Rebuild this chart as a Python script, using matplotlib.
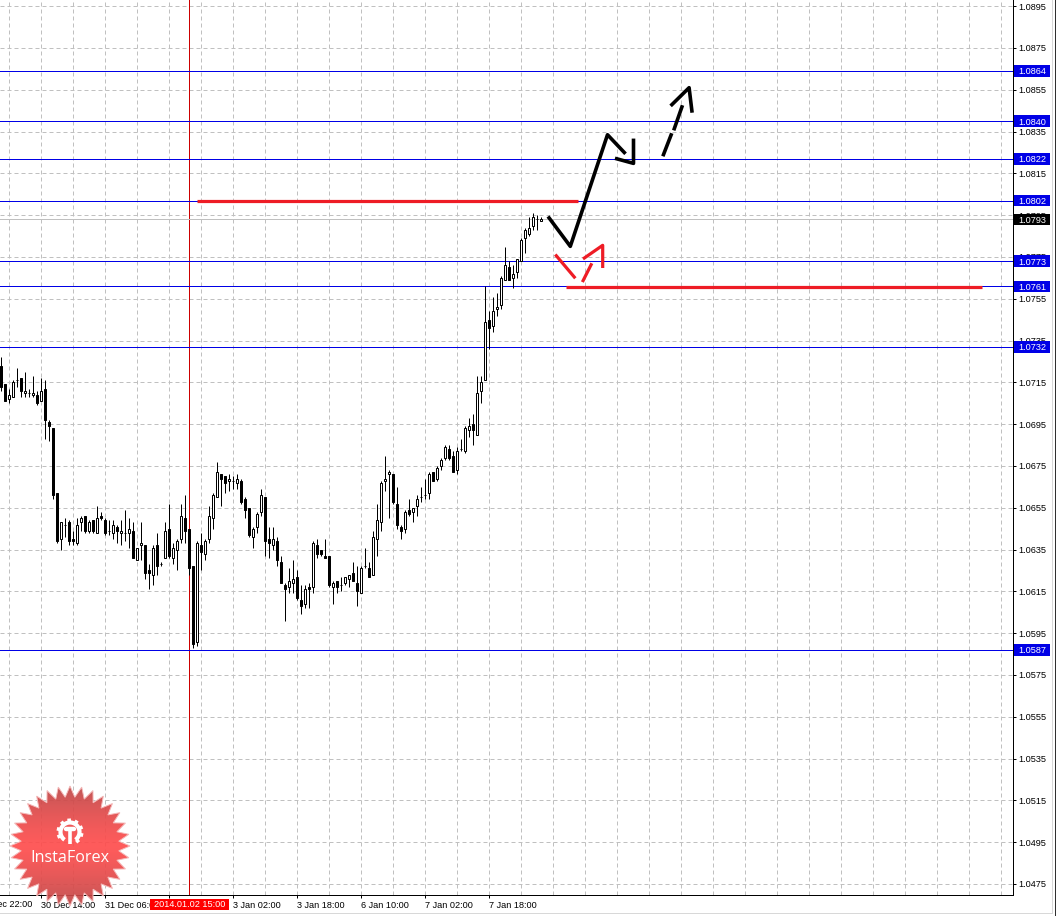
import matplotlib
matplotlib.use("Agg")
import matplotlib.pyplot as plt
import numpy as np
from matplotlib.lines import Line2D
from matplotlib.patches import Polygon, Rectangle

plt.rcParams["font.family"] = ["Liberation Sans", "DejaVu Sans"]

opens = [
    1.0723, 1.0714, 1.0707, 1.0708, 1.0716, 1.0717, 1.0710, 1.0710, 1.0709, 1.0709, 1.0706, 1.0712,
    1.0696, 1.0693, 1.0662, 1.0640, 1.0647, 1.0648, 1.0640, 1.0638, 1.0648, 1.0651, 1.0644, 1.0649,
    1.0643, 1.0651, 1.0649, 1.0644, 1.0643, 1.0646, 1.0643, 1.0643, 1.0643, 1.0644, 1.0630, 1.0637,
    1.0637, 1.0625, 1.0623, 1.0637, 1.0628, 1.0631, 1.0645, 1.0631, 1.0635, 1.0640, 1.0650, 1.0645,
    1.0627, 1.0591, 1.0637, 1.0633, 1.0640, 1.0650, 1.0660, 1.0671, 1.0670, 1.0668, 1.0668, 1.0667,
    1.0668, 1.0659, 1.0655, 1.0641, 1.0646, 1.0653, 1.0660, 1.0640, 1.0637, 1.0639, 1.0629, 1.0618,
    1.0617, 1.0619, 1.0622, 1.0611, 1.0609, 1.0617, 1.0617, 1.0637, 1.0635, 1.0632, 1.0632, 1.0617,
    1.0620, 1.0618, 1.0619, 1.0621, 1.0624, 1.0619, 1.0614, 1.0627, 1.0626, 1.0623, 1.0640, 1.0648,
    1.0668, 1.0671, 1.0671, 1.0657, 1.0646, 1.0645, 1.0654, 1.0653, 1.0656, 1.0660, 1.0661, 1.0662,
    1.0672, 1.0669, 1.0675, 1.0679, 1.0683, 1.0680, 1.0673, 1.0683, 1.0682, 1.0692, 1.0695, 1.0690,
    1.0711, 1.0716, 1.0745, 1.0742, 1.0750, 1.0752, 1.0764, 1.0770, 1.0765, 1.0768, 1.0773, 1.0784,
    1.0786, 1.0790, 1.0793, 1.0792,
]
highs = [
    1.0727, 1.0714, 1.0712, 1.0716, 1.0722, 1.0717, 1.0720, 1.0712, 1.0718, 1.0711, 1.0717, 1.0716,
    1.0697, 1.0693, 1.0662, 1.0648, 1.0650, 1.0649, 1.0644, 1.0650, 1.0651, 1.0651, 1.0649, 1.0649,
    1.0656, 1.0653, 1.0650, 1.0649, 1.0649, 1.0647, 1.0649, 1.0654, 1.0650, 1.0648, 1.0636, 1.0648,
    1.0637, 1.0628, 1.0637, 1.0643, 1.0629, 1.0648, 1.0657, 1.0638, 1.0640, 1.0657, 1.0661, 1.0645,
    1.0627, 1.0639, 1.0643, 1.0640, 1.0656, 1.0662, 1.0677, 1.0671, 1.0670, 1.0671, 1.0670, 1.0671,
    1.0669, 1.0660, 1.0655, 1.0646, 1.0653, 1.0664, 1.0660, 1.0646, 1.0646, 1.0641, 1.0632, 1.0619,
    1.0626, 1.0630, 1.0625, 1.0618, 1.0618, 1.0619, 1.0639, 1.0640, 1.0635, 1.0640, 1.0632, 1.0620,
    1.0620, 1.0622, 1.0622, 1.0623, 1.0629, 1.0627, 1.0627, 1.0636, 1.0629, 1.0644, 1.0657, 1.0668,
    1.0680, 1.0673, 1.0671, 1.0665, 1.0647, 1.0654, 1.0659, 1.0655, 1.0661, 1.0665, 1.0669, 1.0672,
    1.0672, 1.0675, 1.0679, 1.0685, 1.0685, 1.0682, 1.0684, 1.0688, 1.0694, 1.0698, 1.0700, 1.0718,
    1.0718, 1.0761, 1.0749, 1.0756, 1.0758, 1.0766, 1.0780, 1.0773, 1.0771, 1.0774, 1.0784, 1.0789,
    1.0794, 1.0796, 1.0795, 1.0794,
]
lows = [
    1.0711, 1.0706, 1.0705, 1.0708, 1.0713, 1.0708, 1.0708, 1.0708, 1.0708, 1.0704, 1.0706, 1.0688,
    1.0687, 1.0659, 1.0638, 1.0635, 1.0641, 1.0637, 1.0637, 1.0637, 1.0644, 1.0643, 1.0643, 1.0643,
    1.0643, 1.0649, 1.0642, 1.0642, 1.0640, 1.0638, 1.0637, 1.0639, 1.0636, 1.0631, 1.0630, 1.0630,
    1.0621, 1.0616, 1.0618, 1.0623, 1.0627, 1.0631, 1.0631, 1.0628, 1.0625, 1.0638, 1.0638, 1.0623,
    1.0588, 1.0589, 1.0625, 1.0630, 1.0638, 1.0645, 1.0660, 1.0656, 1.0662, 1.0663, 1.0664, 1.0664,
    1.0657, 1.0650, 1.0641, 1.0636, 1.0643, 1.0651, 1.0632, 1.0631, 1.0635, 1.0627, 1.0619, 1.0601,
    1.0614, 1.0614, 1.0611, 1.0604, 1.0607, 1.0607, 1.0614, 1.0631, 1.0632, 1.0631, 1.0617, 1.0609,
    1.0614, 1.0615, 1.0618, 1.0617, 1.0620, 1.0608, 1.0614, 1.0626, 1.0622, 1.0623, 1.0632, 1.0644,
    1.0663, 1.0650, 1.0657, 1.0645, 1.0640, 1.0643, 1.0651, 1.0648, 1.0651, 1.0658, 1.0659, 1.0659,
    1.0668, 1.0668, 1.0673, 1.0678, 1.0678, 1.0672, 1.0671, 1.0682, 1.0681, 1.0689, 1.0685, 1.0690,
    1.0705, 1.0716, 1.0731, 1.0739, 1.0747, 1.0750, 1.0764, 1.0764, 1.0760, 1.0765, 1.0773, 1.0777,
    1.0785, 1.0788, 1.0788, 1.0792,
]
closes = [
    1.0713, 1.0706, 1.0709, 1.0715, 1.0716, 1.0711, 1.0711, 1.0710, 1.0710, 1.0705, 1.0711, 1.0697,
    1.0694, 1.0661, 1.0639, 1.0648, 1.0647, 1.0639, 1.0639, 1.0647, 1.0650, 1.0644, 1.0648, 1.0644,
    1.0650, 1.0650, 1.0643, 1.0644, 1.0647, 1.0644, 1.0644, 1.0643, 1.0645, 1.0631, 1.0636, 1.0638,
    1.0624, 1.0624, 1.0636, 1.0627, 1.0628, 1.0644, 1.0632, 1.0636, 1.0639, 1.0651, 1.0644, 1.0626,
    1.0590, 1.0638, 1.0634, 1.0639, 1.0651, 1.0661, 1.0672, 1.0669, 1.0667, 1.0669, 1.0668, 1.0669,
    1.0658, 1.0654, 1.0642, 1.0645, 1.0652, 1.0661, 1.0639, 1.0638, 1.0640, 1.0630, 1.0619, 1.0616,
    1.0620, 1.0621, 1.0612, 1.0608, 1.0616, 1.0616, 1.0638, 1.0633, 1.0633, 1.0631, 1.0618, 1.0619,
    1.0617, 1.0618, 1.0622, 1.0623, 1.0620, 1.0615, 1.0626, 1.0627, 1.0622, 1.0641, 1.0649, 1.0667,
    1.0669, 1.0672, 1.0658, 1.0647, 1.0644, 1.0653, 1.0652, 1.0655, 1.0659, 1.0660, 1.0661, 1.0671,
    1.0668, 1.0674, 1.0678, 1.0684, 1.0679, 1.0672, 1.0682, 1.0683, 1.0693, 1.0694, 1.0692, 1.0710,
    1.0715, 1.0744, 1.0741, 1.0749, 1.0751, 1.0765, 1.0771, 1.0764, 1.0767, 1.0774, 1.0783, 1.0788,
    1.0789, 1.0794, 1.0793, 1.0793,
]

price_ticks = [1.0895 - 0.002 * k for k in range(22)]
level_prices = [1.0864, 1.0840, 1.0822, 1.0802, 1.0773, 1.0761, 1.0732, 1.0587]
last_price = 1.0793

time_tick_idx = [10, 26, 42, 58, 74, 90, 106, 122]
time_tick_labels = [
    "30 Dec 14:00", "31 Dec 06:00", "2 Jan 10:00", "3 Jan 02:00",
    "3 Jan 18:00", "6 Jan 10:00", "7 Jan 02:00", "7 Jan 18:00",
]
# label whose tick lies left of the window, only its tail shows
cut_tick_idx = -6
cut_tick_label = "29 Dec 22:00"
cursor_idx = 47
cursor_label = "2014.01.02 15:00"

# hand drawn forecast marks, (candle index, price)
red_levels = [([48.9, 144.2], [1.08017, 1.08017]), ([141.2, 245.2], [1.07606, 1.07606])]
black_paths = [
    ([136.9, 142.2, 151.5, 155.7], [1.07937, 1.07801, 1.08335, 1.08250]),
    ([153.8, 158.0, 158.0], [1.08220, 1.08198, 1.08308]),
    ([165.5, 167.4], [1.08240, 1.08334]),
    ([168.2, 170.1], [1.08364, 1.08468]),
    ([167.6, 171.9, 172.6], [1.08479, 1.08560, 1.08449]),
]
red_paths = [
    ([138.7, 143.2], [1.07756, 1.07654]),
    ([145.4, 147.4], [1.07637, 1.07713]),
    ([145.7, 150.3, 150.3], [1.07745, 1.07806, 1.07705]),
]

W, H = 1063, 916
PLOT_R, PLOT_B = 1013, 895
PX = 0.72  # one pixel in points at dpi 100
TICK_FONT = 6.6


def main() -> None:
    fig = plt.figure(figsize=(W / 100, H / 100), dpi=100, facecolor="white")
    ax = fig.add_axes([0, (H - PLOT_B) / H, PLOT_R / W, PLOT_B / H])

    for side in ["left", "top"]:
        ax.spines[side].set_visible(False)
    for side in ["right", "bottom"]:
        ax.spines[side].set_linewidth(PX)

    dash = (0, (4, 3))
    for p in price_ticks:
        ax.axhline(p, color="#c0c0c0", lw=PX, ls=dash, zorder=1)
    for i in range(2, 253, 8):
        ax.axvline(i, color="#c0c0c0", lw=PX, ls=dash, zorder=1)

    ax.yaxis.tick_right()
    ax.set_yticks(price_ticks)
    ax.set_yticklabels([f"{p:.4f}" for p in price_ticks])
    ax.set_xticks(time_tick_idx)
    ax.set_xticklabels(time_tick_labels, ha="left")
    ax.tick_params(axis="y", length=2.2, width=PX, pad=1.4, labelsize=TICK_FONT)
    ax.tick_params(axis="x", length=2.2, width=PX, pad=1.8, labelsize=TICK_FONT)

    ax.axvline(cursor_idx, color="#cc0000", lw=PX, zorder=2)
    ax.axhline(last_price, color="#c0c0c0", lw=PX, zorder=2)
    for p in level_prices:
        ax.axhline(p, color="#0000e6", lw=PX, zorder=2)

    idx = np.arange(len(opens))
    o, h, l, c = map(np.array, (opens, highs, lows, closes))
    up = c >= o
    ax.vlines(idx, l, h, color="black", lw=PX, zorder=3)
    ax.bar(idx[up], (c - o)[up], bottom=o[up], width=0.5, facecolor="white",
           edgecolor="black", linewidth=PX, zorder=4)
    ax.bar(idx[~up], (c - o)[~up], bottom=o[~up], width=0.5, facecolor="black",
           edgecolor="black", linewidth=PX, zorder=4)

    for xs, ys in red_levels:
        ax.plot(xs, ys, color="#ee1c25", lw=2.3, solid_capstyle="butt", zorder=5)
    for xs, ys in black_paths:
        ax.plot(xs, ys, color="black", lw=2.6, zorder=5)
    for xs, ys in red_paths:
        ax.plot(xs, ys, color="#ee1c25", lw=2.3, zorder=5)

    # ticks above stretch the view, so the limits go last
    ax.set_xlim(-0.375, 252.875)
    ax.set_ylim(1.0875 - (PLOT_B - 48.0) / 20900, 1.0875 + 48.0 / 20900)

    # price boxes on the scale
    ytrans = ax.get_yaxis_transform()
    box_h = 11.5 / 20900
    boxes = [(p, "#0000e6") for p in level_prices] + [(last_price, "black")]
    for p, col in boxes:
        ax.add_patch(Rectangle((1014 / PLOT_R, p - box_h / 2), 36 / PLOT_R, box_h,
                               transform=ytrans, facecolor=col, edgecolor="none",
                               clip_on=False, zorder=8))
        ax.text(1018 / PLOT_R, p, f"{p:.4f}", transform=ytrans, color="white",
                fontsize=TICK_FONT, va="center_baseline", ha="left", clip_on=False, zorder=9)

    xtrans = ax.get_xaxis_transform()
    ax.text(cut_tick_idx, -8.2 / PLOT_B, cut_tick_label, transform=xtrans, fontsize=TICK_FONT,
            ha="left", va="center_baseline", clip_on=False, zorder=3)

    # red time box under the cursor line
    ax.add_patch(Rectangle((37.1, -14.5 / PLOT_B), 19.8, 10.5 / PLOT_B, transform=xtrans,
                           facecolor="#ff0000", edgecolor="none", clip_on=False, zorder=8))
    ax.text(cursor_idx, -8.2 / PLOT_B, cursor_label, transform=xtrans, color="white",
            fontsize=TICK_FONT, ha="center", va="center_baseline", clip_on=False, zorder=9)

    # window frame
    for xs, ys, col in [
        ([1054.5, 1054.5], [0, 915.5], "#303030"),
        ([0, 1054.5], [915.5, 915.5], "#303030"),
        ([1052, 1052], [0, 912.5], "#d8d8d8"),
        ([0, 1052], [912.5, 912.5], "#d8d8d8"),
    ]:
        fig.add_artist(Line2D(np.array(xs) / W, 1 - np.array(ys) / H, color=col, lw=PX))

    draw_logo(fig)

    plt.savefig("out.png", dpi=100)
    plt.close()


def draw_logo(fig) -> None:
    # overlay in pixel coordinates for the watermark
    ov = fig.add_axes([0, 0, 1, 1], facecolor="none")
    ov.set_xlim(0, W)
    ov.set_ylim(H, 0)
    ov.axis("off")

    cx, cy, r_out, r_in = 70, 846, 60, 49
    n = 32
    ang = np.linspace(0, 2 * np.pi, 2 * n, endpoint=False) + np.pi / 2
    rad = np.where(np.arange(2 * n) % 2 == 0, r_out, r_in)
    star = np.column_stack([cx + rad * np.cos(ang), cy - rad * np.sin(ang)])

    t = np.abs(np.linspace(-1, 1, 128))[:, None]
    img = np.zeros((128, 1, 4))
    img[..., 0] = 1.0 - 0.27 * t ** 1.3
    img[..., 1] = 0.30 - 0.02 * t
    img[..., 2] = 0.30 - 0.02 * t
    img[..., 3] = 0.92
    patch = Polygon(star, closed=True, facecolor="none", edgecolor="#f4b8b8", lw=0.7, zorder=3)
    ov.add_patch(patch)
    im = ov.imshow(img, extent=(cx - 62, cx + 62, cy + 62, cy - 62), aspect="auto", zorder=2)
    im.set_clip_path(patch)
    ov.set_xlim(0, W)
    ov.set_ylim(H, 0)

    # gear icon
    gx, gy = 70, 832
    th = np.radians(np.linspace(-55, 235, 60))
    ov.plot(gx + 9.5 * np.cos(th), gy - 9.5 * np.sin(th), color="white", lw=3.0,
            solid_capstyle="butt", zorder=4)
    for a in np.radians(np.arange(-50, 235, 36)):
        ov.plot([gx + 10 * np.cos(a), gx + 13.5 * np.cos(a)],
                [gy - 10 * np.sin(a), gy - 13.5 * np.sin(a)],
                color="white", lw=2.6, solid_capstyle="butt", zorder=4)
    ov.plot([gx, gx], [gy - 1, gy + 12], color="white", lw=2.6, solid_capstyle="butt", zorder=4)
    ov.plot([gx - 4, gx + 4], [gy - 3, gy - 3], color="white", lw=3.2, solid_capstyle="round", zorder=4)

    ov.text(cx, 858, "InstaForex", color="white", fontsize=11.6, family=["Open Sans", "DejaVu Sans"],
            ha="center", va="center", zorder=5)


if __name__ == "__main__":
    main()
